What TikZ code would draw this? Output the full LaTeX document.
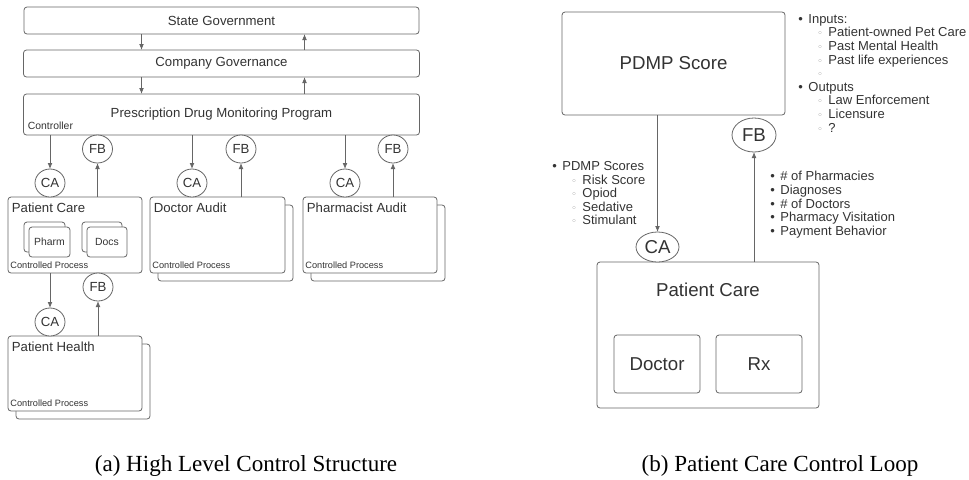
\documentclass[tikz,border=0pt]{standalone}
\usepackage{fontspec}
\setmainfont{Liberation Serif}
\setsansfont{Liberation Sans}
\newfontfamily\symfont{DejaVu Sans}
\usetikzlibrary{positioning}
\usetikzlibrary{arrows.meta}
\usetikzlibrary{shapes.geometric}
\usetikzlibrary{shadows}

\newcommand\bulA[1]{\makebox[7.5pt][l]{\textbullet}#1}
\newcommand\bulB[1]{\hspace{14.25pt}\makebox[8.25pt][l]{{\symfont\fontsize{7}{7}\selectfont\color{black!45}◦}}#1}

\tikzset{
	box/.style={draw=black!60,line width=0.6pt,rounded corners=2.25pt,fill=white,inner sep=0pt,outer sep=0pt,text=black!80},
	proc/.style={box,copy shadow={shadow xshift=6pt,shadow yshift=-6pt}},
	ctrl/.style={ellipse,draw=black!60,line width=0.6pt,fill=white,inner sep=0pt,outer sep=0pt,text=black!80},
	main/.style={font=\sffamily\fontsize{9.9}{12}\selectfont,text=black!80},
	small/.style={font=\sffamily\fontsize{7.8}{9}\selectfont,text=black!80},
	tiny/.style={font=\sffamily\fontsize{6.9}{8}\selectfont,text=black!80},
	big/.style={font=\sffamily\fontsize{14}{16}\selectfont,text=black!80},
	list/.style={font=\sffamily\fontsize{9.75}{10.2}\selectfont,text=black!80,align=left,inner sep=0pt,anchor=north west},
	title/.style={main,anchor=north west,inner xsep=2.6pt,inner ysep=4.5pt},
	proctxt/.style={tiny,anchor=south west,inner xsep=1.5pt,inner ysep=2.8pt},
	caption/.style={font=\rmfamily\fontsize{17.3}{20}\selectfont,anchor=base}
}

\begin{document}
\begin{tikzpicture}[x=0.75pt,y=-0.75pt,>={Latex[length=4.5pt,width=3.6pt]},line width=0.6pt,draw=black!60]
	\useasboundingbox (0,0) rectangle (969,479);

	% (a) high level control structure
	\node [box,main,minimum width=296.25pt,minimum height=20.25pt,anchor=north west] at (24,7) (state_gov) {State Government};
	\node [box,main,minimum width=297pt,minimum height=20.25pt,below=12pt of state_gov] (comp_gov) {Company Governance};
	\node [box,main,minimum width=297pt,minimum height=30.75pt,below=12.75pt of comp_gov] (pdmp) {Prescription Drug Monitoring Program};
	\node [small,anchor=south west,inner xsep=3pt,inner ysep=3.75pt] at (pdmp.south west) (pdmp_txt) {Controller};

	\draw[->] ([xshift=-60pt]state_gov.south) -- ([xshift=-60pt]comp_gov.north);
	\draw[->] ([xshift=62.25pt]comp_gov.north) -- ([xshift=62.25pt]state_gov.south);
	\draw[->] ([xshift=-60pt]comp_gov.south) -- ([xshift=-60pt]pdmp.north);
	\draw[->] ([xshift=62.25pt]pdmp.north) -- ([xshift=62.25pt]comp_gov.south);

	\node [box,minimum width=100.5pt,minimum height=57pt,anchor=north west] at (8,197) (care) {};
	\node [title] at (care.north west) (care_txt) {Patient Care};
	\node [proctxt] at (care.south west) (care_proc) {Controlled Process};
	\node [box,small,copy shadow={shadow xshift=-3.75pt,shadow yshift=3.75pt},minimum width=30.75pt,minimum height=22.5pt,anchor=north west] at (29,227) (pharm) {Pharm};
	\node [box,small,copy shadow={shadow xshift=-3.75pt,shadow yshift=3.75pt},minimum width=30pt,minimum height=22.5pt,anchor=north west] at (87,227) (docs) {Docs};

	\node [proc,minimum width=101.25pt,minimum height=57pt,anchor=north west] at (150,197) (doc_audit) {};
	\node [title] at (doc_audit.north west) (doc_audit_txt) {Doctor Audit};
	\node [proctxt] at (doc_audit.south west) (doc_audit_proc) {Controlled Process};

	\node [proc,minimum width=100.5pt,minimum height=57pt,anchor=north west] at (303,197) (pharm_audit) {};
	\node [title] at (pharm_audit.north west) (pharm_audit_txt) {Pharmacist Audit};
	\node [proctxt] at (pharm_audit.south west) (pharm_audit_proc) {Controlled Process};

	\node [proc,minimum width=100.5pt,minimum height=56.25pt,anchor=north west] at (8,336) (health) {};
	\node [title] at (health.north west) (health_txt) {Patient Health};
	\node [proctxt] at (health.south west) (health_proc) {Controlled Process};

	\node [ctrl,main,minimum width=22.5pt,minimum height=21pt] at (50,183) (ca_care) {CA};
	\node [ctrl,main,minimum width=22.5pt,minimum height=21pt] at (97.5,149) (fb_care) {FB};
	\node [ctrl,main,minimum width=22.5pt,minimum height=21pt] at (192,183) (ca_doc) {CA};
	\node [ctrl,main,minimum width=22.5pt,minimum height=21pt] at (241,149) (fb_doc) {FB};
	\node [ctrl,main,minimum width=22.5pt,minimum height=21pt] at (345,183) (ca_pharm) {CA};
	\node [ctrl,main,minimum width=22.5pt,minimum height=21pt] at (393,149) (fb_pharm) {FB};
	\node [ctrl,main,minimum width=22.5pt,minimum height=21pt] at (50,322) (ca_health) {CA};
	\node [ctrl,main,minimum width=22.5pt,minimum height=21pt] at (98,287) (fb_health) {FB};

	\draw[->] (pdmp.south-|ca_care) -- (ca_care.north);
	\draw[->] (care.north-|fb_care) -- (fb_care.south);
	\draw[->] (pdmp.south-|ca_doc) -- (ca_doc.north);
	\draw[->] (doc_audit.north-|fb_doc) -- (fb_doc.south);
	\draw[->] (pdmp.south-|ca_pharm) -- (ca_pharm.north);
	\draw[->] (pharm_audit.north-|fb_pharm) -- (fb_pharm.south);
	\draw[->] (care.south-|ca_health) -- (ca_health.north);
	\draw[->] (health.north-|fb_health) -- (fb_health.south);

	% (b) patient care control loop
	\node [box,big,minimum width=167.25pt,minimum height=77.25pt,anchor=north west] at (562,12) (score) {PDMP Score};
	\node [box,minimum width=166.5pt,minimum height=109.5pt,anchor=north west] at (597,262) (care_r) {};
	\node [big] at ([yshift=-21pt]care_r.north) (care_r_txt) {Patient Care};
	\node [box,big,minimum width=64.5pt,minimum height=43.5pt,anchor=north west] at (614,335) (doctor) {Doctor};
	\node [box,big,minimum width=64.5pt,minimum height=43.5pt,anchor=north west] at (716,335) (rx) {Rx};

	\node [ctrl,big,minimum width=32.25pt,minimum height=22.5pt] at (657.5,247) (ca_r) {CA};
	\node [ctrl,big,minimum width=33pt,minimum height=25.5pt] at (754,135) (fb_r) {FB};

	\draw[->] (score.south-|ca_r) -- (ca_r.north);
	\draw[->] (care_r.north-|fb_r) -- (fb_r.south);

	\node [list] at (798,14) (io_list) {\bulA{Inputs:}\\ \bulB{Patient-owned Pet Care}\\ \bulB{Past Mental Health}\\ \bulB{Past life experiences}\\ \bulB{}\\ \bulA{Outputs}\\ \bulB{Law Enforcement}\\ \bulB{Licensure}\\ \bulB{?}};
	\node [list] at (552,161) (ca_list) {\bulA{PDMP Scores}\\ \bulB{Risk Score}\\ \bulB{Opiod}\\ \bulB{Sedative}\\ \bulB{Stimulant}};
	\node [list] at (770,171) (fb_list) {\bulA{\# of Pharmacies}\\ \bulA{Diagnoses}\\ \bulA{\# of Doctors}\\ \bulA{Pharmacy Visitation}\\ \bulA{Payment Behavior}};

	% captions
	\node [caption] at (246,471) (cap_a) {(a) High Level Control Structure};
	\node [caption] at (780,471) (cap_b) {(b) Patient Care Control Loop};
\end{tikzpicture}
\end{document}
